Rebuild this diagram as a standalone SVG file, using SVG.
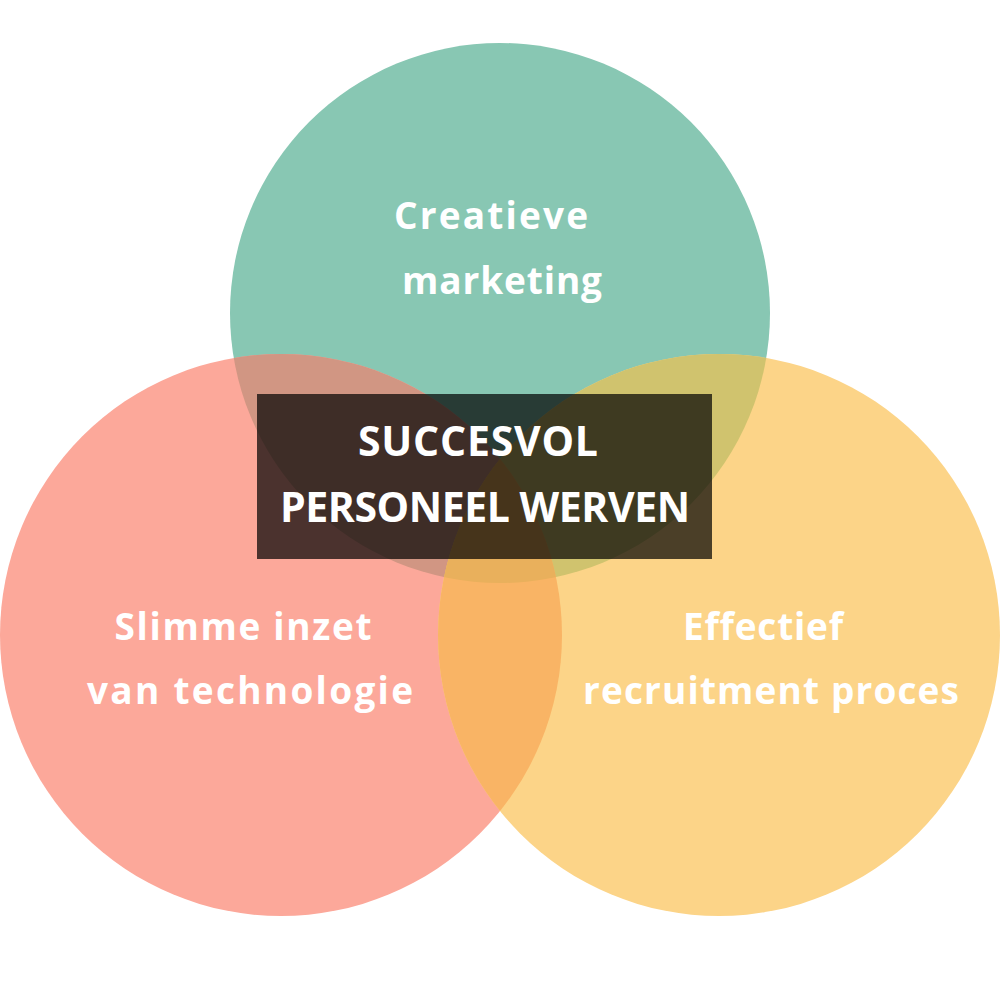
<svg xmlns="http://www.w3.org/2000/svg" width="1000" height="1000" viewBox="0 0 1000 1000">
  <style>
    .lbl { font-family: "Open Sans", Lato, "DejaVu Sans", sans-serif; font-weight: 700; fill: #ffffff; text-anchor: middle; font-variant-ligatures: none; font-feature-settings: "liga" 0, "clig" 0; }
    .side { font-size: 37px; }
    .main { font-size: 41px; }
  </style>
  <defs>
    <clipPath id="clipG"><circle cx="500" cy="313" r="270"/></clipPath>
    <clipPath id="clipR"><circle cx="281" cy="635" r="281"/></clipPath>
    <clipPath id="clipY"><circle cx="719" cy="635" r="281"/></clipPath>
  </defs>
  <rect width="1000" height="1000" fill="#ffffff"/>
  <g id="circle-marketing">
    <circle cx="500" cy="313" r="270" fill="#88C7B3"/>
  </g>
  <g id="circle-technologie">
    <circle cx="281" cy="635" r="281" fill="#FCA89A"/>
  </g>
  <g id="circle-recruitment">
    <circle cx="719" cy="635" r="281" fill="#FCD488"/>
  </g>
  <g id="overlaps">
    <circle cx="281" cy="635" r="281" fill="#D19683" clip-path="url(#clipG)"/>
    <circle cx="719" cy="635" r="281" fill="#D0C36E" clip-path="url(#clipG)"/>
    <circle cx="719" cy="635" r="281" fill="#F9B465" clip-path="url(#clipR)"/>
    <g clip-path="url(#clipG)">
      <circle cx="719" cy="635" r="281" fill="#E9B05C" clip-path="url(#clipR)"/>
    </g>
  </g>
  <g id="center">
    <rect x="257" y="394" width="455" height="165" fill="#000000" fill-opacity="0.7"/>
    <text class="lbl main" x="478" y="456" textLength="240" lengthAdjust="spacing">SUCCESVOL</text>
    <text class="lbl main" x="485" y="522" textLength="410" lengthAdjust="spacing">PERSONEEL WERVEN</text>
  </g>
  <g id="label-marketing">
    <text class="lbl side" x="491" y="229" textLength="194" lengthAdjust="spacing">Creatieve</text>
    <text class="lbl side" x="502" y="294" textLength="200" lengthAdjust="spacing">marketing</text>
  </g>
  <g id="label-technologie">
    <text class="lbl side" x="243" y="640" textLength="257" lengthAdjust="spacing">Slimme inzet</text>
    <text class="lbl side" x="250" y="704" textLength="326" lengthAdjust="spacing">van technologie</text>
  </g>
  <g id="label-recruitment">
    <text class="lbl side" x="763" y="640" textLength="160" lengthAdjust="spacing">Effectief</text>
    <text class="lbl side" x="771" y="704" textLength="376" lengthAdjust="spacing">recruitment proces</text>
  </g>
</svg>
